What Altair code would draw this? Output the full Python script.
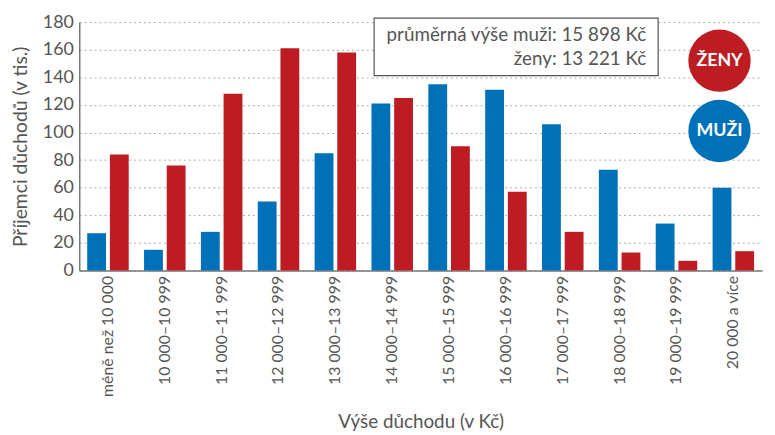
import altair as alt
import pandas as pd

categories = ["méně než 10 000", "10 000–10 999", "11 000–11 999", "12 000–12 999",
              "13 000–13 999", "14 000–14 999", "15 000–15 999", "16 000–16 999",
              "17 000–17 999", "18 000–18 999", "19 000–19 999", "20 000 a více"]
muzi = [27, 15, 28, 50, 85, 121, 135, 131, 106, 73, 34, 60]
zeny = [84, 76, 128, 161, 158, 125, 90, 57, 28, 13, 7, 14]
series = ["muži", "ženy"]
colors = ["#0070b8", "#bd1c23"]
y_ticks = [0, 20, 40, 60, 80, 100, 120, 140, 160, 180]
note_lines = ["průměrná výše  muži: 15 898 Kč", "ženy: 13 221 Kč"]
legend_labels = ["ŽENY", "MUŽI"]

FONT = "Lato"
GREY = "#555555"

rows = []
for c, m, z in zip(categories, muzi, zeny):
    rows.append({"kat": c, "pohlavi": series[0], "hodnota": m})
    rows.append({"kat": c, "pohlavi": series[1], "hodnota": z})
df = pd.DataFrame(rows)

W, H = 690, 251

bars = alt.Chart(df).mark_bar().encode(
    x=alt.X("kat:N", sort=categories,
            scale=alt.Scale(paddingInner=0.27, paddingOuter=0.14),
            axis=alt.Axis(title="Výše důchodu (v Kč)", labelAngle=270, labelAlign="right",
                          labelBaseline="middle", ticks=False, labelPadding=5,
                          titlePadding=16, domainColor="#777777", domainWidth=1.5)),
    xOffset=alt.XOffset("pohlavi:N", sort=series, scale=alt.Scale(paddingInner=0.17)),
    y=alt.Y("hodnota:Q", scale=alt.Scale(domain=[0, 180], nice=False),
            axis=alt.Axis(title="Příjemci důchodů (v tis.)", values=y_ticks, ticks=False,
                          labelPadding=6, titlePadding=12, domainColor="#777777",
                          domainWidth=1.5, grid=True, gridDash=[2, 3],
                          gridColor="#aaaaaa")),
    color=alt.Color("pohlavi:N", sort=series,
                    scale=alt.Scale(domain=series, range=colors), legend=None),
)

box = alt.Chart(pd.DataFrame({"a": [0]})).mark_rect(
    fill="white", stroke="#555555", strokeWidth=1.2
).encode(x=alt.value(298), x2=alt.value(585), y=alt.value(-4), y2=alt.value(54))

note_df = pd.DataFrame({"t": note_lines, "i": [0, 1]})
note = alt.Chart(note_df).mark_text(
    align="right", baseline="middle", font=FONT, fontSize=19, color=GREY
).encode(
    x=alt.value(573),
    y=alt.Y("i:Q", scale=alt.Scale(domain=[0, 1], range=[13, 37]), axis=None),
    text="t:N",
)

leg_df = pd.DataFrame({"t": legend_labels, "i": [0, 1], "c": [colors[1], colors[0]]})
leg_circ = alt.Chart(leg_df).mark_circle(size=3969, opacity=1).encode(
    x=alt.value(647),
    y=alt.Y("i:Q", scale=alt.Scale(domain=[0, 1], range=[39, 110]), axis=None),
    color=alt.Color("c:N", scale=None),
)
leg_text = alt.Chart(leg_df).mark_text(
    font=FONT, fontSize=18, fontWeight="bold", color="white", baseline="middle"
).encode(
    x=alt.value(647),
    y=alt.Y("i:Q", scale=alt.Scale(domain=[0, 1], range=[39, 110]), axis=None),
    text="t:N",
)

chart = alt.layer(bars, box, note, leg_circ, leg_text).resolve_scale(
    y="independent", color="independent"
).properties(
    width=W, height=H,
    autosize=alt.AutoSizeParams(type="none"),
    padding={"left": 72, "top": 12, "right": 5, "bottom": 164},
).configure_view(stroke=None).configure_axis(
    labelFont=FONT, titleFont=FONT, labelColor=GREY, titleColor=GREY,
    labelFontSize=16, titleFontSize=19, titleFontWeight="normal"
).configure_axisY(labelFontSize=18, titleFontSize=19.5)

chart.save("out.html", embed_options={"renderer": "svg", "actions": False})
